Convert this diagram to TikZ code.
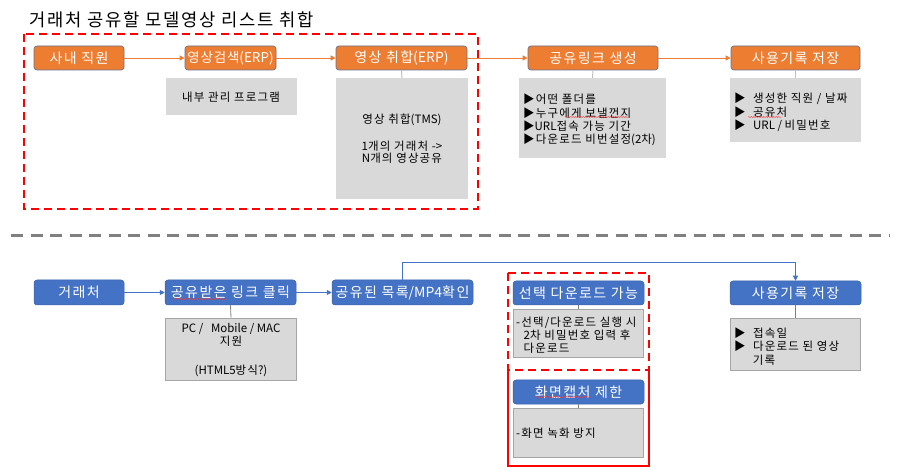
\documentclass[tikz,border=0pt]{standalone}
\usepackage{fontspec}
\setmainfont{Noto Sans CJK KR}[LetterSpace=10]
\newfontfamily\lt{Noto Sans CJK KR}
\newfontfamily\ktight{Noto Sans CJK KR}[LetterSpace=6]
\usetikzlibrary{arrows.meta,backgrounds,decorations.pathmorphing}
\definecolor{orng}{HTML}{ED7D31}
\definecolor{orngline}{HTML}{6A7391}
\definecolor{blu}{HTML}{4472C4}
\definecolor{bluline}{HTML}{3A62A8}
\definecolor{gry}{HTML}{D9D9D9}
\definecolor{gryline}{HTML}{A6A6A6}
\definecolor{sep}{HTML}{808080}
\definecolor{lite}{HTML}{D6D6D6}
\tikzset{
  obox/.style={draw=orngline, line width=0.7pt, fill=orng, rounded corners=3pt, text=white, font=\fontsize{14}{16}\selectfont, inner sep=0pt},
  bbox/.style={draw=bluline, line width=0.5pt, fill=blu, rounded corners=3pt, text=white, font=\fontsize{14}{16}\selectfont, inner sep=0pt},
  gbox/.style={fill=gry, inner sep=0pt},
  gboxb/.style={fill=gry, draw=gryline, line width=0.8pt, inner sep=0pt},
  gtxt/.style={font=\fontsize{11.5}{13}\selectfont, text=black, inner sep=0pt},
  oarr/.style={draw=orng, line width=0.8pt, -{Triangle[length=5pt,width=5pt]}},
  barr/.style={draw=blu, line width=0.8pt, -{Triangle[length=5pt,width=5pt]}},
  larr/.style={draw=lite, line width=1pt, -{Triangle[length=5pt,width=5pt]}},
  stemt/.style={draw=gryline!70, line width=1pt},
  stemb/.style={draw=sep, line width=0.8pt},
  reddash/.style={draw=red, line width=2.2pt, dash pattern=on 8pt off 5pt},
  squig/.style={draw=red!80, line width=0.4pt, decorate, decoration={snake, amplitude=0.5pt, segment length=2.5pt}},
}
\begin{document}
\begin{tikzpicture}[x=1pt,y=-1pt]
\useasboundingbox (0,0) rectangle (900,470);
\fill[white] (0,0) rectangle (900,470);

% title
\node[anchor=west, inner sep=0pt, font=\fontsize{17.7}{20}\selectfont] (title) at (29,20) {거래처 공유할 모델영상 리스트 취합};

% top red dashed region
\draw[reddash] (24,34) rectangle (478,209);

% separator
\draw[draw=sep, line width=3pt, dash pattern=on 12pt off 7.5pt] (11,236) -- (890,236);

% ---------- top row ----------
\node[obox, minimum width=90pt, minimum height=24pt] (t1) at (79,58) {사내 직원};
\node[obox, minimum width=91pt, minimum height=24pt, font=\fontsize{13.5}{16}\ktight] (t2) at (230.5,58) {영상검색{\lt (ERP)}};
\node[obox, minimum width=131pt, minimum height=24pt] (t3) at (401.5,58) {영상 취합{\lt (ERP)}};
\node[obox, minimum width=130pt, minimum height=24pt] (t4) at (593,58) {공유링크 생성};
\node[obox, minimum width=129pt, minimum height=24pt] (t5) at (795.5,58) {사용기록 저장};

\node[gbox, minimum width=131pt, minimum height=37pt] (g2) at (231,97) {};
\node[gtxt] (g2t) at (g2.center) {내부 관리 프로그램};

\node[gbox, minimum width=132pt, minimum height=121pt] (g3) at (402,138.5) {};
\node[gtxt, align=center, font=\fontsize{11.5}{12.5}\selectfont] (g3t) at (402,139) {영상 취합{\lt (TMS)}\\[14pt]{\lt 1}개의 거래처 {\lt ->}\\{\lt N}개의 영상공유};

\node[gbox, minimum width=147pt, minimum height=80pt] (g4) at (592.5,118) {};
\node[gtxt, anchor=north west, align=left, font=\fontsize{11.5}{13.2}\selectfont] (g4t) at (523,94) {▶어떤 폴더를\\▶누구에게 보낼껀지\\▶{\lt URL}접속 가능 기간\\▶다운로드 비번설정{\lt (2}차{\lt )}};

\node[gbox, minimum width=131pt, minimum height=64pt] (g5) at (795.5,110) {};
\node[gtxt, anchor=north west, align=left, font=\fontsize{11.5}{13.5}\selectfont] (g5t) at (734,93) {▶\ \ 생성한 직원 / 날짜\\▶\ \ 공유처\\▶\ \ {\lt URL / }비밀번호};

% top connectors
\draw[oarr] (t1) -- (t2);
\draw[oarr] (t2) -- (t3);
\draw[oarr] (t3) -- (t4);
\draw[oarr] (t4) -- (t5);
\draw[stemt] (t3.south) -- (g3.north);
\draw[stemt] (t4.south) -- (g4.north);
\draw[stemt] (t5.south) -- (g5.north);

% ---------- bottom row ----------
\node[bbox, minimum width=90pt, minimum height=25pt] (b1) at (79,292.5) {거래처};
\node[bbox, minimum width=131pt, minimum height=25pt] (b2) at (230.5,292.5) {공유받은 링크 클릭};
\node[bbox, minimum width=141pt, minimum height=25pt] (b3) at (402.5,292.5) {공유된 목록{\lt /MP4}확인};
\node[bbox, minimum width=131pt, minimum height=24pt] (b4) at (578.5,293) {선택 다운로드 가능};
\node[bbox, minimum width=131pt, minimum height=24pt] (b5) at (795.5,293) {사용기록 저장};
\node[bbox, minimum width=131pt, minimum height=24pt] (b6) at (578.5,392) {화면캡처 제한};

\node[gboxb, minimum width=131pt, minimum height=62pt] (h2) at (231,349) {};
\node[gtxt, align=center, font=\fontsize{11.5}{13}\selectfont] (h2t) at (231,350) {{\lt PC /\ \ \ Mobile / MAC}\\지원\\[16pt]{\lt (HTML5}방식{\lt ?)}};

\node[gboxb, minimum width=130pt, minimum height=48pt] (h4) at (578.5,333) {};
\node[gtxt, anchor=north west, align=left, font=\fontsize{11.5}{13}\selectfont] (h4t) at (516,317) {-선택/다운로드 실행 시\\\ \ {\lt 2}차 비밀번호 입력 후\\\ \ 다운로드};

\node[gboxb, minimum width=130pt, minimum height=52pt] (h5) at (795.5,344) {};
\node[gtxt, anchor=north west, align=left, font=\fontsize{11.5}{13.5}\selectfont] (h5t) at (734,327.5) {▶\ \ 접속일\\▶\ \ 다운로드 된 영상\\\ \ \ \ \ 기록};

\node[gboxb, minimum width=130pt, minimum height=49pt] (h6) at (578.5,432.5) {};
\node[gtxt, anchor=west] (h6t) at (516,433) {-화면 녹화 방지};

% bottom connectors
\begin{scope}[on background layer]
\draw[larr] (b3.east) -- (b5.west);
\end{scope}
\draw[barr] (b1) -- (b2);
\draw[barr] (b2) -- (b3);
\draw[draw=blu, line width=0.8pt, -{Triangle[length=5pt,width=5pt]}] (b3.north) -- ++(0,-17) -| (b5.north);
\draw[stemb] (b2.south) -- (h2.north);
\draw[stemb] (b4.south) -- (h4.north);
\draw[stemb] (b5.south) -- (h5.north);
\draw[stemb] (b6.south) -- (h6.north);

% red regions
\draw[reddash] (508,273) rectangle (649,370);
\draw[draw=red, line width=2.2pt] (508,370) -- (508,466) -- (649,466) -- (649,370);

% spell-check marks
\draw[squig] (565,117) -- (628,117);
\draw[squig] (748,117) -- (782,117);
\draw[squig] (173,299) -- (227,299);
\draw[squig] (536,397) -- (590,397);
\end{tikzpicture}
\end{document}
